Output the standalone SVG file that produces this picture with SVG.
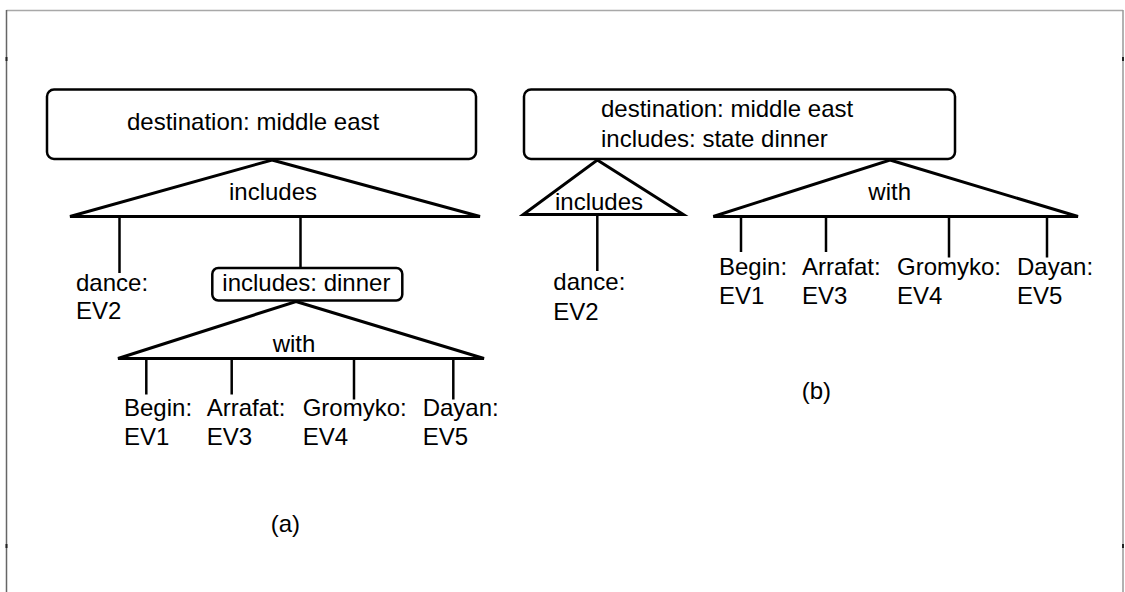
<svg xmlns="http://www.w3.org/2000/svg" width="1125" height="592" viewBox="0 0 1125 592">
  <style>
    text { font-family: "Liberation Sans", Arial, sans-serif; font-size: 24px; fill: #000; }
    .box { fill: #fff; stroke: #000; stroke-width: 2.5; }
    .tri { fill: none; stroke: #000; stroke-width: 3; }
    .link { stroke: #000; stroke-width: 2.5; fill: none; }
    .frame { fill: none; stroke-width: 1.5; }
  </style>

  <rect width="1125" height="592" fill="#fff"/>

  <!-- page frame -->
  <g id="frame">
    <line class="frame" x1="6.5" y1="10.5" x2="1123" y2="10.5" stroke="#a8a8a8"/>
    <line class="frame" x1="6.5" y1="10" x2="6.5" y2="592" stroke="#666"/>
    <line class="frame" x1="1123" y1="10" x2="1123" y2="592" stroke="#999"/>
    <g stroke="#222" stroke-width="2">
      <line x1="6.5" y1="57" x2="6.5" y2="61"/>
      <line x1="6.5" y1="544" x2="6.5" y2="548"/>
      <line x1="1123" y1="57" x2="1123" y2="61"/>
      <line x1="1123" y1="544" x2="1123" y2="548"/>
    </g>
  </g>

  <!-- connectors: relation triangles and their branches -->
  <g id="connectors">
    <!-- (a) includes -->
    <polygon class="tri" points="272,160 480,216.5 70,216.5"/>
    <line class="link" x1="119.5" y1="216.5" x2="119.5" y2="273"/>
    <line class="link" x1="300.5" y1="216.5" x2="300.5" y2="268"/>
    <!-- (a) with -->
    <polygon class="tri" points="296,301.5 484,358.5 118,358.5"/>
    <line class="link" x1="146.3" y1="358.5" x2="146.3" y2="394.5"/>
    <line class="link" x1="231.7" y1="358.5" x2="231.7" y2="394.5"/>
    <line class="link" x1="354" y1="358.5" x2="354" y2="399.5"/>
    <line class="link" x1="453.3" y1="358.5" x2="453.3" y2="399.5"/>
    <!-- (b) includes -->
    <polygon class="tri" points="597.3,160 683.3,214.5 523.3,214.5"/>
    <line class="link" x1="597.3" y1="214.5" x2="597.3" y2="271"/>
    <!-- (b) with -->
    <polygon class="tri" points="890,160 1078,216.5 713.3,216.5"/>
    <line class="link" x1="741" y1="216.5" x2="741" y2="252"/>
    <line class="link" x1="826" y1="216.5" x2="826" y2="252"/>
    <line class="link" x1="949" y1="216.5" x2="949" y2="257.5"/>
    <line class="link" x1="1047" y1="216.5" x2="1047" y2="257.5"/>
  </g>

  <!-- relation labels -->
  <g id="relation-labels">
    <text x="273" y="200" text-anchor="middle">includes</text>
    <text x="272.7" y="352">with</text>
    <text x="555" y="210">includes</text>
    <text x="868.3" y="200">with</text>
  </g>

  <!-- (a) -->
  <g id="a-destination">
    <rect class="box" x="47" y="89.5" width="429" height="69.5" rx="7"/>
    <text x="127" y="130">destination: middle east</text>
  </g>
  <g id="a-dance">
    <text x="76" y="290.5">dance:</text>
    <text x="76" y="319">EV2</text>
  </g>
  <g id="a-dinner">
    <rect class="box" x="212.3" y="268" width="190" height="32.5" rx="6"/>
    <text x="222.3" y="290.5">includes: dinner</text>
  </g>
  <g id="a-begin">
    <text x="124" y="416">Begin:</text>
    <text x="124" y="445">EV1</text>
  </g>
  <g id="a-arrafat">
    <text x="206.7" y="416">Arrafat:</text>
    <text x="206.7" y="445">EV3</text>
  </g>
  <g id="a-gromyko">
    <text x="302.7" y="416">Gromyko:</text>
    <text x="302.7" y="445">EV4</text>
  </g>
  <g id="a-dayan">
    <text x="422.7" y="416">Dayan:</text>
    <text x="422.7" y="445">EV5</text>
  </g>
  <g id="a-caption">
    <text x="270.7" y="532">(a)</text>
  </g>

  <!-- (b) -->
  <g id="b-destination">
    <rect class="box" x="524" y="89.5" width="431" height="69.5" rx="7"/>
    <text x="601" y="117">destination: middle east</text>
    <text x="601" y="147">includes: state dinner</text>
  </g>
  <g id="b-dance">
    <text x="553.3" y="290">dance:</text>
    <text x="553.3" y="319.5">EV2</text>
  </g>
  <g id="b-begin">
    <text x="719" y="275">Begin:</text>
    <text x="719" y="303.5">EV1</text>
  </g>
  <g id="b-arrafat">
    <text x="802" y="275">Arrafat:</text>
    <text x="802" y="303.5">EV3</text>
  </g>
  <g id="b-gromyko">
    <text x="897" y="275">Gromyko:</text>
    <text x="897" y="303.5">EV4</text>
  </g>
  <g id="b-dayan">
    <text x="1017" y="275">Dayan:</text>
    <text x="1017" y="303.5">EV5</text>
  </g>
  <g id="b-caption">
    <text x="801.7" y="399">(b)</text>
  </g>
</svg>
